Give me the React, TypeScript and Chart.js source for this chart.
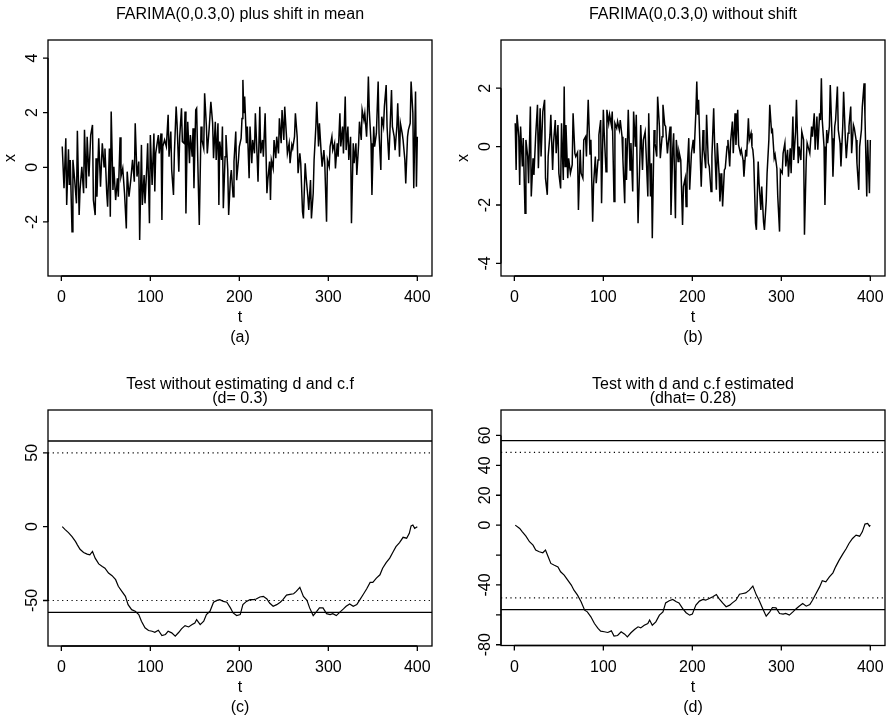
import React, { useEffect, useRef } from "react";
import { Chart, registerables } from "chart.js";

Chart.register(...registerables);

const FONT = '"Liberation Sans", Arial, Helvetica, sans-serif';

// ---- data ----
const timeTicks = [0, 100, 200, 300, 400];
const timeTickLabels = ["0", "100", "200", "300", "400"];

const ticksA = [-2, 0, 2, 4];
const tickLabelsA = ["-2", "0", "2", "4"];
const ticksB = [-4, -2, 0, 2];
const tickLabelsB = ["-4", "-2", "0", "2"];
const ticksC = [-50, 0, 50];
const tickLabelsC = ["-50", "0", "50"];
const ticksD = [-80, -60, -40, -20, 0, 20, 40, 60];
const tickLabelsD = ["-80", "", "-40", "", "0", "20", "40", "60"];

// critical bounds (solid) and dotted bounds
const boundsC = { solid: [58, -58], dotted: [50, -50] };
const boundsD = { solid: [56.5, -56.5], dotted: [48.7, -48.7] };

// (t, x) pairs
const seriesA: [number, number][] = [
  [1,0.76],[3,-0.77],[5,1.06],[6,-1.38],[8,0.66],[9,-0.65],[10,0.27],[12,-2.36],[13,0.27],[15,-0.47],[17,-1.32],[18,1.34],[20,-1.75],[21,-0.83],[23,0.02],[25,-0.95],[26,1.37],[28,-0.77],[29,1.12],[31,-0.34],[33,1.18],[35,1.55],[36,-1.2],[38,-1.75],[39,0.33],[40,-1.08],[42,1.06],[44,-0.71],[46,0.88],[48,0.02],[49,0.69],[51,-0.95],[52,-1.44],[54,0.69],[55,-1.81],[56,2.04],[58,-0.83],[59,0.02],[61,-1.2],[63,-0.4],[64,-1.08],[66,1.1],[67,-0.34],[69,-0.04],[71,-0.95],[73,-2.24],[74,-0.16],[76,-1.08],[78,-0.47],[80,0.27],[82,-0.53],[83,1.61],[85,-0.34],[87,0.21],[88,-2.66],[90,0.82],[91,-1.38],[93,-0.28],[94,-1.32],[96,0.02],[97,0.88],[99,-2.05],[100,1.18],[102,-0.65],[104,1.24],[105,-0.89],[106,0.51],[109,1.18],[110,0.51],[112,1.24],[113,-1.93],[114,0.76],[116,1.0],[118,0.76],[120,1.92],[121,0.39],[123,1.31],[124,-0.1],[126,-1.01],[127,0.51],[129,2.22],[130,1.61],[132,-0.16],[133,1.12],[135,2.16],[136,0.94],[138,0.88],[139,2.04],[140,-1.69],[141,0.27],[142,1.67],[144,0.15],[145,1.18],[147,0.39],[148,1.43],[149,-0.77],[151,2.1],[152,2.16],[154,-0.77],[155,-2.11],[157,1.49],[158,1.0],[160,0.69],[161,2.71],[163,1.49],[164,0.51],[166,1.37],[168,2.4],[170,1.61],[171,0.33],[173,1.67],[174,0.27],[176,1.61],[177,-1.38],[178,0.94],[180,0.27],[181,1.49],[182,-1.5],[184,0.39],[185,1.18],[187,-0.1],[188,-1.75],[190,-0.4],[191,-0.1],[193,-1.08],[194,0.21],[196,1.31],[197,-0.47],[199,0.27],[200,0.76],[202,1.06],[203,1.79],[204,3.2],[205,1.98],[206,2.59],[208,0.88],[209,1.49],[211,-0.4],[212,1.49],[214,0.15],[215,1.0],[217,0.51],[218,1.98],[220,0.39],[221,-0.53],[223,2.22],[224,0.51],[226,1.0],[227,0.39],[229,1.98],[231,-0.95],[232,-0.47],[234,0.21],[235,-1.2],[236,0.27],[238,-0.04],[239,1.0],[241,0.33],[242,1.12],[244,0.51],[245,1.79],[247,0.88],[248,2.1],[250,1.0],[251,2.22],[253,1.12],[254,0.51],[256,0.88],[257,0.15],[259,0.82],[260,0.69],[262,1.12],[263,1.98],[265,1.12],[266,-0.22],[268,0.51],[269,0.15],[271,-1.63],[272,-1.87],[274,0.15],[275,-0.34],[277,-1.08],[278,-1.56],[280,-0.47],[281,-1.87],[283,-0.95],[284,0.27],[286,1.49],[287,2.4],[289,0.76],[290,1.61],[292,0.51],[293,0.02],[295,0.63],[296,0.15],[298,-1.99],[299,0.27],[301,0.02],[302,0.76],[304,1.12],[305,0.63],[307,0.88],[308,-0.04],[310,0.88],[311,0.39],[313,1.98],[314,0.76],[316,1.49],[317,0.51],[319,2.59],[320,0.63],[322,1.49],[323,0.27],[325,1.12],[326,-2.05],[328,0.88],[329,0.15],[331,0.88],[332,-0.28],[334,0.82],[335,1.67],[337,1.0],[338,2.1],[340,1.73],[341,1.98],[343,1.12],[344,1.98],[345,3.32],[346,2.1],[348,0.88],[349,-1.01],[351,1.49],[352,0.76],[354,1.24],[356,3.14],[357,1.24],[359,-0.1],[360,1.85],[362,1.49],[363,2.22],[365,3.01],[366,1.49],[368,0.27],[369,1.12],[371,2.83],[372,1.49],[374,1.12],[375,0.63],[377,1.49],[378,2.34],[380,0.39],[381,1.61],[383,1.24],[384,1.0],[386,0.27],[387,-0.59],[389,1.12],[390,1.37],[392,1.61],[393,3.14],[395,1.98],[396,-0.77],[398,2.77],[399,-0.71],[400,1.12]
];

const seriesB: [number, number][] = [
  [1,0.8],[2,-0.8],[3,1.09],[5,0.34],[6,-1.31],[7,0.69],[9,-0.68],[10,0.29],[12,-2.28],[13,0.23],[15,-0.34],[16,-1.25],[18,1.37],[19,-1.71],[21,-0.4],[22,-0.97],[24,0.4],[26,1.43],[27,-0.74],[29,1.31],[30,-0.34],[32,1.2],[34,1.6],[35,-1.08],[37,-1.65],[38,-0.34],[40,0.4],[41,1.09],[43,-0.8],[44,0.12],[46,0.91],[47,-0.23],[49,0.74],[50,-0.91],[52,-1.43],[53,0.8],[55,-1.14],[56,2.06],[57,-0.68],[58,0.74],[60,-1.08],[61,-0.4],[63,-0.91],[65,-0.63],[66,1.14],[68,-0.23],[69,-0.34],[71,-0.2],[72,-2.17],[74,-0.11],[75,-0.91],[77,-1.08],[78,0.23],[80,0.34],[81,-0.34],[83,1.6],[85,-0.28],[86,0.23],[88,-2.57],[89,-1.31],[91,-0.34],[92,-1.25],[94,-0.46],[95,0.4],[97,0.91],[98,-1.94],[100,1.26],[101,0.46],[103,-0.86],[104,1.26],[106,0.8],[107,1.09],[109,0.74],[110,1.2],[112,-1.88],[113,0.8],[115,0.63],[116,0.86],[118,0.57],[119,0.91],[121,0.34],[122,-0.46],[124,-1.94],[125,0.29],[126,-1.14],[128,1.26],[130,-0.8],[131,0.12],[133,-1.54],[134,1.2],[136,0.0],[137,1.09],[139,-2.62],[141,-0.46],[142,0.74],[144,-0.8],[145,0.23],[147,0.51],[148,-0.17],[150,-1.71],[151,1.14],[153,-1.71],[154,-0.57],[155,-3.14],[157,0.57],[158,0.12],[160,-0.34],[161,1.71],[163,0.69],[164,-0.4],[166,0.34],[167,1.43],[169,0.74],[170,0.69],[172,-0.23],[173,0.12],[175,0.69],[176,-2.34],[178,-0.06],[179,0.46],[181,-2.45],[182,0.23],[184,-0.51],[185,-0.17],[187,-0.46],[189,-2.68],[190,-1.37],[192,-1.08],[193,-2.05],[194,-0.97],[196,0.29],[197,-1.48],[199,-0.23],[201,0.23],[202,-0.23],[204,1.2],[205,2.23],[206,1.09],[207,1.6],[209,-0.46],[210,-1.37],[212,0.57],[213,-0.11],[215,-0.74],[216,1.09],[218,-0.57],[219,-0.68],[221,-1.54],[222,-0.34],[224,1.31],[225,0.12],[227,-1.48],[228,0.12],[230,-0.91],[231,-1.88],[233,-0.91],[234,-2.05],[236,-0.8],[237,-0.74],[239,0.0],[240,0.23],[242,-0.68],[243,0.17],[245,0.86],[246,-0.23],[248,1.14],[249,0.06],[251,1.26],[252,0.06],[254,-0.23],[255,-0.11],[257,-0.46],[258,-1.03],[260,-0.11],[261,-0.34],[263,0.97],[264,0.23],[266,0.46],[267,0.0],[268,-0.11],[269,-0.46],[271,-2.62],[272,-2.85],[274,-0.51],[275,-1.25],[277,-2.17],[278,-1.37],[280,-2.57],[281,-2.85],[283,-1.88],[284,-0.91],[286,0.23],[287,1.43],[289,0.51],[290,0.57],[292,-0.4],[293,-0.28],[295,-0.74],[296,-1.71],[298,-2.91],[299,-0.8],[301,-0.91],[302,-0.23],[304,0.12],[305,-0.68],[307,-0.11],[308,-1.03],[310,-0.06],[311,-0.91],[313,1.03],[314,-0.46],[316,0.51],[317,1.6],[319,-0.57],[320,0.0],[322,-0.46],[323,0.51],[325,0.23],[326,-3.02],[328,-0.46],[329,0.12],[331,-0.11],[332,-0.23],[334,0.69],[335,0.34],[337,1.14],[338,-0.11],[340,1.03],[341,-0.11],[343,1.14],[344,0.91],[345,2.34],[346,0.91],[348,0.0],[349,-2.0],[351,0.57],[352,0.12],[354,0.69],[355,2.11],[357,0.29],[358,-1.03],[360,0.69],[361,0.91],[363,2.06],[364,0.57],[366,0.12],[367,-0.68],[369,0.69],[370,1.88],[372,0.23],[373,-0.4],[375,0.46],[376,0.69],[378,1.37],[379,-0.23],[381,0.74],[382,0.63],[384,0.23],[385,-0.57],[387,-1.48],[388,0.0],[390,0.57],[391,1.37],[393,2.17],[394,1.03],[396,-1.71],[397,0.23],[399,-1.6],[400,0.23]
];

const seriesC: [number, number][] = [
  [1,0],[4,-1.8],[8,-4.0],[12,-6.7],[16,-10.1],[18,-12.3],[21,-15.3],[25,-17.5],[29,-18.6],[32,-19.1],[35,-16.8],[38,-21.3],[42,-25.2],[46,-27.0],[49,-28.1],[53,-31.4],[57,-33.2],[61,-35.9],[64,-40.4],[68,-43.8],[72,-47.2],[75,-52.8],[79,-56.2],[83,-57.3],[87,-59.5],[90,-64.0],[94,-68.5],[98,-70.3],[102,-70.8],[105,-71.5],[109,-70.1],[113,-73.7],[117,-73.0],[120,-70.8],[124,-71.9],[128,-74.2],[132,-71.5],[135,-69.2],[139,-67.0],[143,-67.9],[147,-66.3],[150,-65.2],[152,-62.9],[156,-66.3],[160,-64.0],[163,-59.5],[167,-57.3],[171,-51.2],[175,-49.9],[178,-49.4],[182,-50.6],[186,-51.2],[190,-55.0],[193,-58.4],[197,-60.2],[201,-59.5],[204,-52.8],[208,-50.6],[212,-49.4],[216,-49.4],[219,-49.0],[223,-47.6],[227,-47.2],[231,-49.0],[234,-51.7],[238,-53.9],[242,-52.8],[246,-51.2],[249,-49.4],[253,-46.3],[257,-45.8],[261,-45.4],[264,-43.8],[268,-41.1],[272,-47.2],[276,-49.9],[279,-55.0],[283,-60.2],[287,-57.3],[290,-55.0],[294,-55.0],[298,-58.9],[302,-59.5],[305,-58.9],[309,-60.2],[313,-57.9],[317,-55.7],[320,-53.9],[324,-52.3],[328,-53.9],[332,-52.8],[335,-49.9],[339,-46.1],[343,-42.2],[347,-37.7],[350,-37.7],[354,-34.8],[358,-32.6],[361,-28.1],[365,-24.3],[369,-21.3],[373,-16.8],[376,-13.5],[380,-10.8],[384,-7.2],[388,-7.8],[391,-4.5],[393,0.5],[395,1.1],[397,-1.1],[400,0]
];

const seriesD: [number, number][] = [
  [1,0],[6,-2.2],[9,-4.5],[13,-7.4],[17,-11.1],[21,-13.4],[24,-16.7],[28,-17.8],[32,-18.5],[35,-16.7],[38,-21.2],[41,-25.6],[45,-26.8],[49,-27.9],[52,-31.2],[56,-33.4],[60,-36.8],[64,-40.1],[67,-43.5],[71,-46.8],[75,-51.3],[79,-56.9],[82,-58.0],[86,-61.3],[90,-65.8],[94,-69.1],[97,-70.9],[101,-71.3],[105,-71.8],[109,-70.7],[112,-74.2],[116,-73.8],[120,-71.3],[124,-72.9],[127,-74.7],[131,-72.0],[135,-69.8],[139,-68.0],[142,-68.7],[146,-66.9],[150,-65.8],[152,-63.5],[155,-66.9],[159,-64.7],[163,-60.2],[167,-58.0],[170,-52.0],[174,-50.6],[178,-49.7],[182,-51.3],[185,-52.0],[189,-55.7],[193,-58.6],[197,-60.2],[200,-59.5],[204,-53.5],[208,-50.8],[212,-49.7],[215,-50.2],[219,-49.1],[223,-47.9],[227,-46.4],[230,-49.1],[234,-52.0],[238,-54.6],[242,-53.5],[245,-52.0],[249,-50.2],[253,-46.2],[257,-45.7],[260,-45.3],[264,-43.5],[268,-40.8],[272,-46.8],[275,-50.2],[279,-55.7],[283,-60.9],[287,-58.0],[290,-55.1],[294,-55.3],[298,-59.1],[302,-59.5],[305,-59.1],[309,-60.2],[313,-58.0],[317,-55.7],[320,-54.2],[324,-52.4],[328,-54.2],[332,-53.1],[335,-50.2],[339,-45.7],[343,-41.3],[346,-37.2],[350,-37.9],[354,-34.6],[358,-31.9],[361,-27.9],[365,-23.4],[369,-19.4],[373,-15.6],[376,-12.3],[380,-8.9],[384,-6.7],[388,-7.4],[391,-4.5],[394,0.7],[397,1.1],[399,-0.7],[400,0]
];

// ---- panel layout ----
type Panel = {
  key: string;
  cx: number; cy: number; cw: number; ch: number; // canvas rect on page
  box: { l: number; t: number; r: number; b: number }; // plot box on page
  xMin: number; xMax: number; yMin: number; yMax: number;
  yTicks: number[]; yLabels: string[];
  title: string[]; xTitle: string; yTitle: string; sub: string;
  series: [number, number][];
  lineWidth: number;
  bounds?: { solid: number[]; dotted: number[] };
};

const X_MIN = -15;
const X_MAX = 416.5;

const panels: Panel[] = [
  {
    key: "a", cx: 0, cy: 0, cw: 445, ch: 362,
    box: { l: 48, t: 40, r: 432, b: 276 },
    xMin: X_MIN, xMax: X_MAX, yMin: -3.98, yMax: 4.66,
    yTicks: ticksA, yLabels: tickLabelsA,
    title: ["FARIMA(0,0.3,0) plus shift in mean"], xTitle: "t", yTitle: "x", sub: "(a)",
    series: seriesA, lineWidth: 1.5,
  },
  {
    key: "b", cx: 445, cy: 0, cw: 444, ch: 362,
    box: { l: 501, t: 40, r: 885, b: 276 },
    xMin: X_MIN, xMax: X_MAX, yMin: -4.43, yMax: 3.65,
    yTicks: ticksB, yLabels: tickLabelsB,
    title: ["FARIMA(0,0.3,0) without shift"], xTitle: "t", yTitle: "x", sub: "(b)",
    series: seriesB, lineWidth: 1.5,
  },
  {
    key: "c", cx: 0, cy: 362, cw: 445, ch: 362,
    box: { l: 48, t: 410, r: 432, b: 646 },
    xMin: X_MIN, xMax: X_MAX, yMin: -80.8, yMax: 79,
    yTicks: ticksC, yLabels: tickLabelsC,
    title: ["Test without estimating d and c.f", "(d= 0.3)"], xTitle: "t", yTitle: "", sub: "(c)",
    series: seriesC, lineWidth: 1.2, bounds: boundsC,
  },
  {
    key: "d", cx: 445, cy: 362, cw: 444, ch: 362,
    box: { l: 501, t: 410, r: 885, b: 645.5 },
    xMin: X_MIN, xMax: X_MAX, yMin: -80.5, yMax: 77,
    yTicks: ticksD, yLabels: tickLabelsD,
    title: ["Test with d and c.f estimated", "(dhat= 0.28)"], xTitle: "t", yTitle: "", sub: "(d)",
    series: seriesD, lineWidth: 1.2, bounds: boundsD,
  },
];

function rAxesPlugin(p: Panel) {
  return {
    id: "rAxes_" + p.key,
    afterDraw(chart: any) {
      const { ctx, chartArea: a, scales } = chart;
      const xs = scales.x;
      const ys = scales.y;
      ctx.save();
      ctx.strokeStyle = "#000";
      ctx.fillStyle = "#000";
      ctx.lineWidth = 1.3;
      ctx.strokeRect(a.left, a.top, a.right - a.left, a.bottom - a.top);
      ctx.beginPath();
      const x0 = xs.getPixelForValue(timeTicks[0]);
      const x1 = xs.getPixelForValue(timeTicks[timeTicks.length - 1]);
      ctx.moveTo(x0, a.bottom);
      ctx.lineTo(x1, a.bottom);
      timeTicks.forEach((v) => {
        const px = xs.getPixelForValue(v);
        ctx.moveTo(px, a.bottom);
        ctx.lineTo(px, a.bottom + 5);
      });
      const y0 = ys.getPixelForValue(p.yTicks[0]);
      const y1 = ys.getPixelForValue(p.yTicks[p.yTicks.length - 1]);
      ctx.moveTo(a.left, y0);
      ctx.lineTo(a.left, y1);
      p.yTicks.forEach((v) => {
        const py = ys.getPixelForValue(v);
        ctx.moveTo(a.left, py);
        ctx.lineTo(a.left - 5, py);
      });
      ctx.stroke();

      ctx.font = `16px ${FONT}`;
      ctx.textAlign = "center";
      ctx.textBaseline = "alphabetic";
      timeTicks.forEach((v, i) => {
        ctx.fillText(timeTickLabels[i], xs.getPixelForValue(v), a.bottom + 26);
      });
      p.yTicks.forEach((v, i) => {
        const lab = p.yLabels[i];
        if (!lab) return;
        ctx.save();
        ctx.translate(a.left - 11, ys.getPixelForValue(v));
        ctx.rotate(-Math.PI / 2);
        ctx.fillText(lab, 0, 0);
        ctx.restore();
      });
      const mx = (a.left + a.right) / 2;
      const my = (a.top + a.bottom) / 2;
      ctx.fillText(p.xTitle, mx, a.bottom + 46);
      ctx.fillText(p.sub, mx, a.bottom + 66);
      if (p.yTitle) {
        ctx.save();
        ctx.translate(a.left - 33, my);
        ctx.rotate(-Math.PI / 2);
        ctx.fillText(p.yTitle, 0, 0);
        ctx.restore();
      }
      p.title.forEach((line, i) => {
        const off = i === 0 ? 21.5 : 7;
        ctx.fillText(line, mx, a.top - off);
      });
      ctx.restore();
    },
  };
}

function PanelChart({ p }: { p: Panel }) {
  const ref = useRef<HTMLCanvasElement | null>(null);
  useEffect(() => {
    const canvas = ref.current;
    if (!canvas) return;
    const padding = {
      left: p.box.l - p.cx,
      top: p.box.t - p.cy,
      right: p.cx + p.cw - p.box.r,
      bottom: p.cy + p.ch - p.box.b,
    };
    const datasets: any[] = [];
    if (p.bounds) {
      p.bounds.solid.forEach((y) =>
        datasets.push({
          data: [{ x: p.xMin, y }, { x: p.xMax, y }],
          borderColor: "#000", borderWidth: 1.3, pointRadius: 0, fill: false,
        })
      );
      p.bounds.dotted.forEach((y) =>
        datasets.push({
          data: [{ x: p.xMin, y }, { x: p.xMax, y }],
          borderColor: "#000", borderWidth: 1.2, borderDash: [1.2, 3.5], pointRadius: 0, fill: false,
        })
      );
    }
    datasets.push({
      data: p.series.map(([t, v]) => ({ x: t, y: v })),
      borderColor: "#000", borderWidth: p.lineWidth, pointRadius: 0, fill: false, tension: 0,
    });
    const chart = new Chart(canvas, {
      type: "line",
      data: { datasets },
      options: {
        animation: false,
        responsive: false,
        maintainAspectRatio: false,
        devicePixelRatio: 1,
        events: [],
        layout: { padding },
        plugins: { legend: { display: false }, tooltip: { enabled: false }, title: { display: false } },
        scales: {
          x: { type: "linear", min: p.xMin, max: p.xMax, display: false },
          y: { type: "linear", min: p.yMin, max: p.yMax, display: false },
        },
      },
      plugins: [rAxesPlugin(p)],
    } as any);
    return () => chart.destroy();
  }, [p]);
  return (
    <canvas
      ref={ref}
      width={p.cw}
      height={p.ch}
      style={{ position: "absolute", left: p.cx, top: p.cy, width: p.cw, height: p.ch }}
    />
  );
}

export default function App() {
  return (
    <div style={{ position: "absolute", left: 0, top: 0, width: 889, height: 724, background: "#fff" }}>
      {panels.map((p) => (
        <PanelChart key={p.key} p={p} />
      ))}
    </div>
  );
}
